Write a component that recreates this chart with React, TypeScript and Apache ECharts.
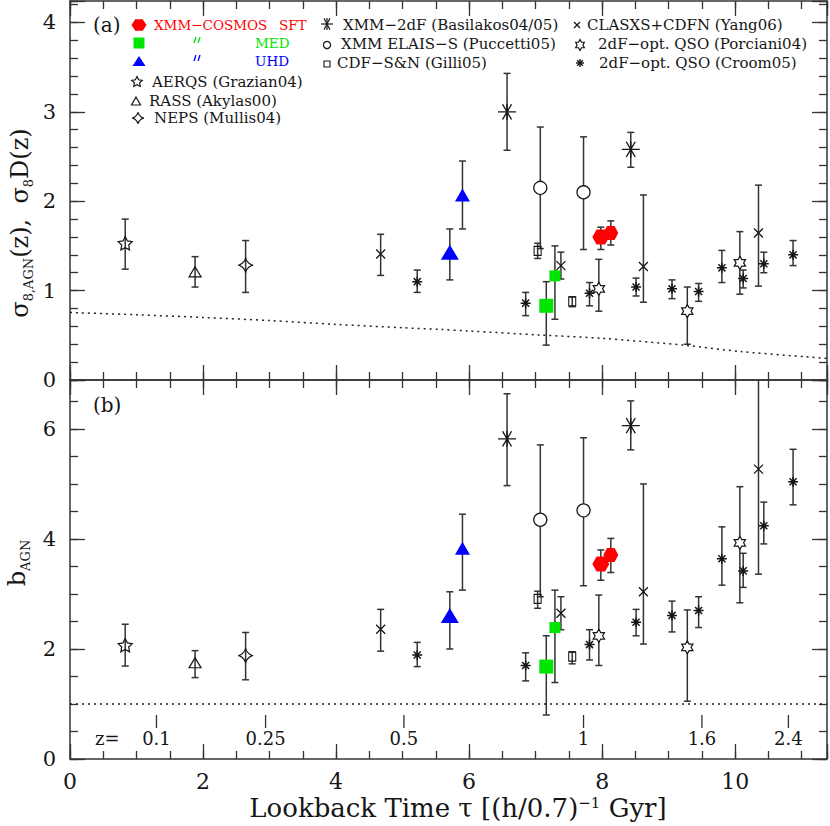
import React, { useEffect, useRef } from 'react';
import * as echarts from 'echarts';

// ---------------- data ----------------
// each entry: [lookback time tau, value, lower end of error bar, upper end of error bar]
type Pt = [number, number, number, number];

const TAU_MAX = 11.38;
const SIGMA_MAX = 4.24;
const BIAS_MAX = 6.89;

const sftSigma: Pt[] = [[7.98, 1.6, 1.46, 1.71], [8.13, 1.645, 1.51, 1.78]];
const sftBias: Pt[] = [[7.98, 3.545, 3.25, 3.8], [8.13, 3.71, 3.39, 4.01]];
const medSigma: Pt[] = [[7.16, 0.83, 0.39, 1.1], [7.29, 1.165, 0.68, 1.5]];
const medBias: Pt[] = [[7.16, 1.68, 0.8, 2.24], [7.29, 2.39, 1.39, 3.07]];
const uhdSigma: Pt[] = [[5.71, 1.43, 1.12, 1.69], [5.9, 2.07, 1.69, 2.45]];
const uhdBias: Pt[] = [[5.71, 2.61, 2.0, 3.04], [5.9, 3.83, 3.07, 4.45]];
const grazianSigma: Pt[] = [[0.83, 1.53, 1.24, 1.8]];
const grazianBias: Pt[] = [[0.83, 2.07, 1.69, 2.45]];
const akylasSigma: Pt[] = [[1.88, 1.21, 1.04, 1.38]];
const akylasBias: Pt[] = [[1.88, 1.75, 1.48, 1.97]];
const mullisSigma: Pt[] = [[2.64, 1.285, 0.98, 1.56]];
const mullisBias: Pt[] = [[2.64, 1.88, 1.44, 2.3]];
const basilakosSigma: Pt[] = [[6.57, 3.0, 2.57, 3.43], [8.43, 2.58, 2.38, 2.77]];
const basilakosBias: Pt[] = [[6.57, 5.82, 4.97, 6.64], [8.43, 6.06, 5.62, 6.51]];
const puccettiSigma: Pt[] = [[7.07, 2.15, 1.47, 2.83], [7.72, 2.1, 1.46, 2.72]];
const puccettiBias: Pt[] = [[7.07, 4.35, 2.95, 5.71], [7.72, 4.52, 3.15, 5.84]];
const gilliSigma: Pt[] = [[7.03, 1.445, 1.36, 1.53], [7.55, 0.88, 0.82, 0.93]];
const gilliBias: Pt[] = [[7.03, 2.91, 2.74, 3.05], [7.55, 1.86, 1.73, 1.95]];
const yangSigma: Pt[] = [
  [4.67, 1.41, 1.17, 1.63], [7.38, 1.28, 1.13, 1.43], [8.62, 1.27, 0.87, 2.07], [10.35, 1.645, 1.05, 2.18],
];
const yangBias: Pt[] = [
  [4.67, 2.36, 1.96, 2.72], [7.38, 2.65, 2.35, 2.95], [8.62, 3.04, 2.09, 5.0], [10.35, 5.27, 3.36, 7.3],
];
const porcianiSigma: Pt[] = [[7.95, 1.02, 0.77, 1.35], [9.28, 0.77, 0.4, 1.04], [10.07, 1.31, 0.96, 1.66]];
const porcianiBias: Pt[] = [[7.95, 2.24, 1.7, 2.98], [9.28, 2.03, 1.05, 2.71], [10.07, 3.93, 2.84, 4.95]];
const croomSigma: Pt[] = [
  [5.22, 1.1, 0.98, 1.23], [6.85, 0.86, 0.72, 0.98], [7.81, 0.97, 0.83, 1.09], [8.51, 1.04, 0.94, 1.14],
  [9.05, 1.02, 0.91, 1.12], [9.45, 0.99, 0.88, 1.08], [9.8, 1.255, 1.09, 1.45], [10.12, 1.135, 1.03, 1.23],
  [10.43, 1.3, 1.2, 1.43], [10.87, 1.4, 1.28, 1.56],
];
const croomBias: Pt[] = [
  [5.22, 1.89, 1.68, 2.12], [6.85, 1.7, 1.42, 1.93], [7.81, 2.08, 1.8, 2.35], [8.51, 2.485, 2.24, 2.72],
  [9.05, 2.61, 2.31, 2.87], [9.45, 2.7, 2.39, 2.95], [9.8, 3.64, 3.16, 4.22], [10.12, 3.42, 3.12, 3.74],
  [10.43, 4.24, 3.91, 4.67], [10.87, 5.04, 4.62, 5.63],
];

// sigma_8 D(z) dotted curve (top) and b = 1 reference (bottom)
const growthTau = [0, 1, 2, 3, 4, 5, 5.56, 6, 7.07, 8, 9.27, 10.08, 11.38];
const growthSigma = [0.755, 0.73, 0.7, 0.665, 0.622, 0.585, 0.566, 0.548, 0.503, 0.466, 0.387, 0.318, 0.242];
const unityTau = [0, 11.38];
const unityBias = [1, 1];

// redshift ticks along the lower panel
const zTickTau = [1.3, 2.94, 5.02, 7.72, 9.5, 10.8];
const zTickLabels = ['0.1', '0.25', '0.5', '1', '1.6', '2.4'];

// ---------------- shapes ----------------
type Sub = { pts: [number, number][]; closed: boolean };

function hexShape(): Sub[] {
  const pts: [number, number][] = [];
  for (let i = 0; i < 6; i++) {
    const a = (i * Math.PI) / 3;
    pts.push([Math.cos(a), Math.sin(a)]);
  }
  return [{ pts, closed: true }];
}
function starShape(n: number, inner: number): Sub[] {
  const pts: [number, number][] = [];
  for (let i = 0; i < 2 * n; i++) {
    const a = -Math.PI / 2 + (i * Math.PI) / n;
    const r = i % 2 ? inner : 1;
    pts.push([r * Math.cos(a), r * Math.sin(a)]);
  }
  return [{ pts, closed: true }];
}
function concaveStar(p: number): Sub[] {
  const pts: [number, number][] = [];
  const N = 64;
  for (let i = 0; i < N; i++) {
    const t = (i / N) * 2 * Math.PI;
    const c = Math.cos(t), s = Math.sin(t);
    pts.push([Math.sign(c) * Math.pow(Math.abs(c), p), Math.sign(s) * Math.pow(Math.abs(s), p)]);
  }
  return [{ pts, closed: true }];
}
function triShape(): Sub[] {
  return [{ pts: [[0, -1], [1, 1], [-1, 1]], closed: true }];
}
function crossShape(): Sub[] {
  return [
    { pts: [[-1, -1], [1, 1]], closed: false },
    { pts: [[1, -1], [-1, 1]], closed: false },
  ];
}
function asteriskShape(): Sub[] {
  const subs: Sub[] = [];
  for (let i = 0; i < 4; i++) {
    const a = (i * Math.PI) / 4;
    const c = Math.cos(a), s = Math.sin(a);
    subs.push({ pts: [[-c, -s], [c, s]], closed: false });
  }
  return subs;
}
function bigAsteriskShape(): Sub[] {
  return [
    { pts: [[-1, 0], [1, 0]], closed: false },
    { pts: [[0, -1], [0, 1]], closed: false },
    { pts: [[-0.5, -0.95], [0.5, 0.95]], closed: false },
    { pts: [[0.5, -0.95], [-0.5, 0.95]], closed: false },
  ];
}
function rectShape(): Sub[] {
  return [{ pts: [[-1, -1], [1, -1], [1, 1], [-1, 1]], closed: true }];
}
function dittoShape(): Sub[] {
  return [
    { pts: [[-0.35, -1], [-1, 1]], closed: false },
    { pts: [[1, -1], [0.35, 1]], closed: false },
  ];
}
function toSymbol(subs: Sub[]): string {
  return (
    'path://' +
    subs
      .map(
        (s) =>
          'M' + s.pts.map((p) => `${(p[0] * 10).toFixed(3)},${(p[1] * 10).toFixed(3)}`).join('L') + (s.closed ? 'Z' : '')
      )
      .join(' ')
  );
}
function toGraphic(subs: Sub[], cx: number, cy: number, w: number, h: number, style: any) {
  return {
    type: 'group',
    children: subs.map((s) => ({
      type: s.closed ? 'polygon' : 'polyline',
      shape: { points: s.pts.map((p) => [cx + (p[0] * w) / 2, cy + (p[1] * h) / 2]) },
      style: s.closed ? style : { ...style, fill: null },
    })),
  };
}

const FONT = 'DejaVu Serif';
const AX = '#333';
const INK = '#161616';
const RED = '#ff0000';
const GREEN = '#00e600';
const BLUE = '#0000ff';

type DS = {
  name: string;
  sigma: Pt[];
  bias: Pt[];
  symbol: string;
  size: any;
  fill: string;
  stroke: string | null;
  lw: number;
  keep?: boolean;
};

const datasets: DS[] = [
  { name: 'Croom05', sigma: croomSigma, bias: croomBias, symbol: toSymbol(asteriskShape()), size: [10, 10], fill: 'none', stroke: INK, lw: 1.5 },
  { name: 'Yang06', sigma: yangSigma, bias: yangBias, symbol: toSymbol(crossShape()), size: [9, 9], fill: 'none', stroke: INK, lw: 1.3 },
  { name: 'Porciani04', sigma: porcianiSigma, bias: porcianiBias, symbol: toSymbol(starShape(6, 0.577)), size: [13, 13], fill: '#fff', stroke: INK, lw: 1.2, keep: true },
  { name: 'Basilakos', sigma: basilakosSigma, bias: basilakosBias, symbol: toSymbol(bigAsteriskShape()), size: [18, 16], fill: 'none', stroke: INK, lw: 1.3 },
  { name: 'Puccetti05', sigma: puccettiSigma, bias: puccettiBias, symbol: 'circle', size: [13, 13], fill: '#fff', stroke: INK, lw: 1.3 },
  { name: 'Gilli05', sigma: gilliSigma, bias: gilliBias, symbol: toSymbol(rectShape()), size: [7, 9], fill: 'none', stroke: INK, lw: 1.2 },
  { name: 'Grazian04', sigma: grazianSigma, bias: grazianBias, symbol: toSymbol(starShape(5, 0.5)), size: [14, 14], fill: 'none', stroke: INK, lw: 1.2, keep: true },
  { name: 'Akylas00', sigma: akylasSigma, bias: akylasBias, symbol: toSymbol(triShape()), size: [12, 10], fill: 'none', stroke: INK, lw: 1.2 },
  { name: 'Mullis04', sigma: mullisSigma, bias: mullisBias, symbol: toSymbol(concaveStar(3)), size: [15, 15], fill: 'none', stroke: INK, lw: 1.2 },
  { name: 'MED', sigma: medSigma, bias: medBias, symbol: 'rect', size: [[14, 14], [11, 11]], fill: GREEN, stroke: null, lw: 0 },
  { name: 'UHD', sigma: uhdSigma, bias: uhdBias, symbol: 'triangle', size: [[18, 15], [15, 13]], fill: BLUE, stroke: null, lw: 0 },
  { name: 'SFT', sigma: sftSigma, bias: sftBias, symbol: toSymbol(hexShape()), size: [[17, 15], [15, 14]], fill: RED, stroke: null, lw: 0 },
];

function buildOption() {
  const L = 70, R = 3;
  const grids = [
    { left: L, right: R, top: 1, height: 379, outerBoundsMode: 'none', containLabel: false },
    { left: L, right: R, top: 380, height: 379, outerBoundsMode: 'none', containLabel: false },
  ];
  const lineStyle = { color: AX, width: 1.5 };
  const tickStyle = { color: AX, width: 1.3 };

  const xAxes: any[] = [];
  [0, 1].forEach((g) => {
    const base = {
      type: 'value', gridIndex: g, min: 0, max: TAU_MAX, splitLine: { show: false },
      axisLabel: { show: false }, axisLine: { show: false, onZero: false },
    };
    (['bottom', 'top'] as const).forEach((pos) => {
      xAxes.push({
        ...base, position: pos, interval: 0.5,
        axisLine: { show: true, onZero: false, lineStyle },
        axisTick: { show: true, inside: true, length: 8, lineStyle: tickStyle },
      });
      xAxes.push({
        ...base, position: pos, interval: 2,
        axisTick: { show: true, inside: true, length: 15, lineStyle: tickStyle },
        axisLabel:
          g === 1 && pos === 'bottom'
            ? {
                show: true, fontSize: 22, fontFamily: FONT, color: INK, margin: 10, lineHeight: 24,
                formatter: (v: number) => (Math.abs(v - Math.round(v)) < 1e-6 && Math.round(v) % 2 === 0 ? String(Math.round(v)) : ''),
              }
            : { show: false },
      });
    });
  });

  const yAxes: any[] = [];
  [0, 1].forEach((g) => {
    const max = g === 0 ? SIGMA_MAX : BIAS_MAX;
    const fine = g === 0 ? 0.2 : 0.5;
    const major = g === 0 ? 1 : 2;
    const base = {
      type: 'value', gridIndex: g, min: 0, max, splitLine: { show: false },
      axisLabel: { show: false }, axisLine: { show: false, onZero: false },
    };
    (['left', 'right'] as const).forEach((pos) => {
      yAxes.push({
        ...base, position: pos, interval: fine,
        axisLine: { show: true, onZero: false, lineStyle },
        axisTick: { show: true, inside: true, length: 8, lineStyle: tickStyle },
      });
      yAxes.push({
        ...base, position: pos, interval: major,
        axisTick: { show: true, inside: true, length: 15, lineStyle: tickStyle },
        axisLabel:
          pos === 'left'
            ? {
                show: true, fontSize: 21, fontFamily: FONT, color: INK, margin: 14,
                formatter: (v: number) => (Math.abs(v - Math.round(v)) < 1e-6 ? String(Math.round(v)) : ''),
              }
            : { show: false },
      });
    });
  });

  const series: any[] = [];
  series.push({
    type: 'line', xAxisIndex: 0, yAxisIndex: 0, silent: true, symbol: 'none', smooth: 0.3,
    data: growthTau.map((t, i) => [t, growthSigma[i]]),
    lineStyle: { type: [2, 4], width: 1.5, color: '#222' }, z: 1,
  });
  series.push({
    type: 'line', xAxisIndex: 4, yAxisIndex: 4, silent: true, symbol: 'none',
    data: unityTau.map((t, i) => [t, unityBias[i]]),
    lineStyle: { type: [2, 4], width: 1.5, color: '#222' }, z: 1,
  });

  const errSeries = (pts: Pt[], axis: number) => ({
    type: 'custom', xAxisIndex: axis, yAxisIndex: axis, silent: true, clip: true, z: 2,
    data: pts.map((p) => [p[0], p[2], p[3]]),
    encode: { x: 0, y: [1, 2] },
    renderItem: (_params: any, api: any) => {
      const t = api.value(0);
      const a = api.coord([t, api.value(1)]);
      const b = api.coord([t, api.value(2)]);
      const cap = 3.5;
      const st = { stroke: '#333', lineWidth: 1.5 };
      return {
        type: 'group',
        children: [
          { type: 'line', shape: { x1: a[0], y1: a[1], x2: b[0], y2: b[1] }, style: st },
          { type: 'line', shape: { x1: a[0] - cap, y1: a[1], x2: a[0] + cap, y2: a[1] }, style: st },
          { type: 'line', shape: { x1: b[0] - cap, y1: b[1], x2: b[0] + cap, y2: b[1] }, style: st },
        ],
      };
    },
  });

  datasets.forEach((ds) => {
    series.push(errSeries(ds.sigma, 0));
    series.push(errSeries(ds.bias, 4));
  });

  datasets.forEach((ds) => {
    const symbolSize = Array.isArray(ds.size[0])
      ? (_v: any, p: any) => ds.size[p.dataIndex]
      : ds.size;
    [
      [ds.sigma, 0],
      [ds.bias, 4],
    ].forEach(([pts, axis]: any) => {
      series.push({
        type: 'scatter', name: ds.name, xAxisIndex: axis, yAxisIndex: axis, silent: true, z: 3,
        symbol: ds.symbol, symbolSize, symbolKeepAspect: !!ds.keep,
        data: (pts as Pt[]).map((p) => [p[0], p[1]]),
        itemStyle: {
          color: ds.fill, borderColor: ds.stroke || 'transparent', borderWidth: ds.lw, opacity: 1,
        },
      });
    });
  });

  // redshift ticks
  series.push({
    type: 'custom', xAxisIndex: 4, yAxisIndex: 4, silent: true, z: 4,
    data: zTickTau.map((t, i) => [t, i]),
    encode: { x: 0 },
    renderItem: (_p: any, api: any) => {
      const t = api.value(0);
      const i = api.value(1);
      const o = api.coord([t, 0]);
      return {
        type: 'group',
        children: [
          { type: 'line', shape: { x1: o[0], y1: o[1] - 44, x2: o[0], y2: o[1] - 31 }, style: { stroke: AX, lineWidth: 1.3 } },
          {
            type: 'text', x: o[0], y: o[1] - 21,
            style: { text: zTickLabels[i], fontSize: 18, fontFamily: FONT, fill: INK, align: 'center', verticalAlign: 'middle' },
          },
        ],
      };
    },
  });

  // ---------------- graphic: legend, labels, titles ----------------
  const txt = (x: number, y: number, text: string, fill = INK, size = 15, extra: any = {}) => ({
    type: 'text', x, y, silent: true,
    style: { text, fill, fontSize: size, fontFamily: FONT, align: 'left', verticalAlign: 'middle', ...extra },
  });
  const blackLine = { stroke: INK, lineWidth: 1.2, fill: null };
  const graphics: any[] = [
    // panel labels
    txt(93, 25, '(a)', INK, 20),
    txt(93, 405, '(b)', INK, 20),
    txt(95, 738, 'z=', INK, 18),
    // column 1
    toGraphic(hexShape(), 139, 25, 15, 13, { fill: RED }),
    txt(154, 25, 'XMM−COSMOS', RED, 13.5),
    txt(279, 25, 'SFT', RED, 13.5),
    { type: 'rect', shape: { x: 133.5, y: 37.5, width: 11, height: 11 }, style: { fill: GREEN } },
    toGraphic(dittoShape(), 197, 40, 6, 6, { stroke: GREEN, lineWidth: 1.3 }),
    txt(255, 43, 'MED', GREEN, 13.5),
    toGraphic(triShape(), 139, 61, 13, 10, { fill: BLUE }),
    toGraphic(dittoShape(), 197, 58, 6, 6, { stroke: BLUE, lineWidth: 1.3 }),
    txt(255, 61, 'UHD', BLUE, 13.5),
    toGraphic(starShape(5, 0.5), 137, 82, 11, 11, blackLine),
    txt(152, 82, 'AERQS (Grazian04)'),
    toGraphic(triShape(), 136, 101, 9, 8, blackLine),
    txt(149, 101, 'RASS (Akylas00)'),
    toGraphic(concaveStar(3), 138, 118, 12, 12, blackLine),
    txt(154, 118, 'NEPS (Mullis04)'),
    // column 2
    toGraphic(bigAsteriskShape(), 327, 24, 12, 12, blackLine),
    txt(343, 25, 'XMM−2dF (Basilakos04/05)'),
    { type: 'circle', shape: { cx: 327, cy: 45, r: 3.6 }, style: { fill: '#fff', stroke: INK, lineWidth: 1.2 } },
    txt(341, 44, 'XMM ELAIS−S (Puccetti05)'),
    { type: 'rect', shape: { x: 324, y: 61, width: 6, height: 6 }, style: { fill: null, stroke: INK, lineWidth: 1.1 } },
    txt(337, 63, 'CDF−S&N (Gilli05)'),
    // column 3
    toGraphic(crossShape(), 577, 25, 6, 6, blackLine),
    txt(587, 25, 'CLASXS+CDFN (Yang06)'),
    toGraphic(starShape(6, 0.577), 580, 45, 10, 11, blackLine),
    txt(598, 44, '2dF−opt. QSO (Porciani04)'),
    toGraphic(asteriskShape(), 580, 63, 8, 8, { stroke: INK, lineWidth: 1.4 }),
    txt(599, 63, '2dF−opt. QSO (Croom05)'),
    // x axis title
    {
      type: 'text', x: 458, y: 808, silent: true,
      style: {
        text: '{m|Lookback Time τ [(h/0.7)}{s|−1}{m| Gyr]}',
        align: 'center', verticalAlign: 'middle',
        rich: {
          m: { fontSize: 26, fontFamily: FONT, fill: INK, color: INK, lineHeight: 26, verticalAlign: 'middle' },
          s: { fontSize: 15, fontFamily: FONT, fill: INK, color: INK, lineHeight: 16, verticalAlign: 'top' },
        },
      },
    },
    // y axis titles
    {
      type: 'text', x: 20, y: 223, rotation: Math.PI / 2, silent: true,
      style: {
        text: '{m|σ}{s|8,AGN}{m|(z),  σ}{s|8}{m|D(z)}',
        align: 'center', verticalAlign: 'middle',
        rich: {
          m: { fontSize: 24, fontFamily: FONT, fill: INK, color: INK, lineHeight: 30, verticalAlign: 'middle' },
          s: { fontSize: 13, fontFamily: FONT, fill: INK, color: INK, lineHeight: 14, verticalAlign: 'bottom' },
        },
      },
    },
    {
      type: 'text', x: 17, y: 563, rotation: Math.PI / 2, silent: true,
      style: {
        text: '{m|b}{s|AGN}',
        align: 'center', verticalAlign: 'middle',
        rich: {
          m: { fontSize: 24, fontFamily: FONT, fill: INK, color: INK, lineHeight: 30, verticalAlign: 'middle' },
          s: { fontSize: 13, fontFamily: FONT, fill: INK, color: INK, lineHeight: 14, verticalAlign: 'bottom' },
        },
      },
    },
  ];

  return {
    animation: false,
    backgroundColor: '#fff',
    grid: grids,
    xAxis: xAxes,
    yAxis: yAxes,
    series,
    graphic: { elements: graphics },
  };
}

export default function App() {
  const ref = useRef<HTMLDivElement>(null);
  useEffect(() => {
    document.body.style.margin = '0';
    const chart = echarts.init(ref.current!, undefined, { renderer: 'svg' });
    chart.setOption(buildOption() as any);
    return () => chart.dispose();
  }, []);
  return (
    <div
      ref={ref}
      style={{ width: 830, height: 826, position: 'fixed', left: 0, top: 0, background: '#fff' }}
    />
  );
}
